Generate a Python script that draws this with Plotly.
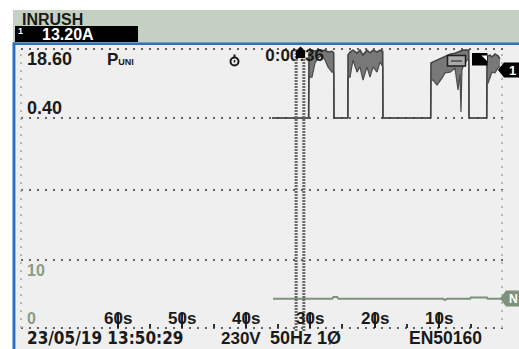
import plotly.graph_objects as go

# ---------------- data ----------------
# time axis: seconds before the end of the recording
tick_vals = [60, 50, 40, 30, 20, 10]
tick_text = ["60s", "50s", "40s", "30s", "20s", "10s"]
minor_vals = [55, 45, 35, 25, 15, 5]

# inrush current trace, min/max envelope (A, upper scale 0.40 .. 18.60)
time_s = [35.95, 30.25, 30.2, 29.73, 29.26, 28.79, 28.17, 27.70, 27.24, 26.61, 26.35, 26.30,
          24.15, 24.12, 23.81, 23.35, 22.72, 22.26, 21.79, 21.17, 20.70, 20.23, 19.61, 19.14,
          18.72, 18.68, 11.25, 11.21, 10.89, 10.27, 9.49, 9.03, 8.25, 7.47, 7.00, 6.70, 6.54,
          6.40, 6.23, 5.60, 5.33, 5.29, 2.53, 2.49, 2.33, 2.02, 1.71, 1.25, 0.78, 0.47]
inrush_max = [0.4, 0.4, 17.5, 18.3, 18.0, 18.3, 18.1, 18.3, 17.8, 18.0, 17.6, 0.4,
              0.4, 17.0, 17.8, 18.3, 17.5, 18.3, 17.0, 18.3, 17.6, 18.3, 17.8, 18.3,
              18.0, 0.4, 0.4, 14.9, 15.2, 15.7, 16.2, 16.5, 17.2, 17.5, 17.8, 18.0, 18.3,
              18.3, 18.3, 18.3, 18.3, 0.4, 0.4, 16.5, 16.8, 17.0, 16.5, 17.3, 16.8, 16.0]
inrush_min = [0.4, 0.4, 11.2, 11.2, 14.9, 16.2, 17.0, 15.7, 13.9, 12.5, 12.5, 0.4,
              0.4, 11.2, 11.2, 15.7, 12.5, 13.9, 10.4, 13.9, 11.2, 13.9, 12.5, 15.2,
              14.0, 0.4, 0.4, 10.4, 10.4, 9.1, 10.9, 12.3, 12.5, 13.6, 7.8, 12.0, 2.0,
              13.0, 13.9, 15.7, 15.7, 0.4, 0.4, 9.6, 9.6, 11.2, 12.5, 12.3, 13.6, 14.0]

# neutral trace (lower scale 0 .. 10)
neutral_t = [35.8, 26.6, 26.4, 25.8, 25.6, 18.9, 18.7, 13.2, 11.2, 9.3, 9.1, 8.7, 5.1, 5.0,
             2.5, 2.4, -0.5]
neutral_v = [4.3, 4.3, 4.55, 4.55, 4.3, 4.3, 4.4, 4.4, 4.3, 4.3, 4.1, 4.3, 4.3, 4.5,
             4.5, 4.3, 4.3]

cursor_t = [32.2, 31.0]
upper_labels = ["18.60", "0.40"]
upper_vals = [18.60, 0.40]
lower_labels = ["10", "0"]
lower_vals = [10, 0]
elapsed_text = "0:00:36"
elapsed_pos = (37.0, 16.5)
header_title = "INRUSH"
header_value = "13.20A"
status_texts = ["23/05/19 13:50:29", "230V", "50Hz 1Ø", "EN50160"]

# ---------------- geometry / styles ----------------
W, H = 519, 349
FONT = "Liberation Sans"
FONT_C = "DejaVu Sans Condensed, Liberation Sans"
INK = "#1a1a1a"
GREEN = "#7d917b"
BLUE = "#2f6fbf"

X0_PX, PX_PER_S = 503.0, 6.425
x_range = [X0_PX / PX_PER_S, (X0_PX - W) / PX_PER_S]
k1 = (18.60 - 0.40) / (118 - 49)
y_range = [0.40 - (H - 118) * k1, 18.60 + 49 * k1]
k2 = 10.0 / (328 - 260)
y2_range = [0 - (H - 328) * k2, 10 + 260 * k2]


def px(x):
    return x / W


def py(y):
    return 1 - y / H


def path(points):
    return "M " + " L ".join(f"{px(a):.5f},{py(b):.5f}" for a, b in points) + " Z"


fig = go.Figure()

fig.add_trace(go.Scatter(x=time_s, y=inrush_min, mode="lines",
                         line=dict(color="#4a4a4a", width=1.2), hoverinfo="skip"))
fig.add_trace(go.Scatter(x=time_s, y=inrush_max, mode="lines", fill="tonexty",
                         fillcolor="#787878", line=dict(color="#444444", width=1.6),
                         hoverinfo="skip"))
fig.add_trace(go.Scatter(x=neutral_t, y=neutral_v, mode="lines", yaxis="y2",
                         line=dict(color=GREEN, width=2), hoverinfo="skip"))
fig.add_trace(go.Scatter(x=[elapsed_pos[0]], y=[elapsed_pos[1]], mode="text",
                         text=[f"<b>{elapsed_text}</b>"], textposition="middle right",
                         textfont=dict(family=FONT, size=17, color=INK), hoverinfo="skip"))

shapes = []
# backgrounds
shapes.append(dict(type="rect", xref="paper", yref="paper", x0=px(13), x1=1, y0=py(43), y1=py(10),
                   fillcolor="#c4d0c1", line_width=0, layer="below"))
shapes.append(dict(type="rect", xref="paper", yref="paper", x0=px(16), x1=1, y0=0, y1=py(45),
                   fillcolor="#efefef", line_width=0, layer="below"))
shapes.append(dict(type="rect", xref="paper", yref="paper", x0=px(13), x1=1, y0=py(45), y1=py(42.5),
                   fillcolor=BLUE, line_width=0, layer="below"))
shapes.append(dict(type="rect", xref="paper", yref="paper", x0=px(12.5), x1=px(15.5), y0=0, y1=py(42.5),
                   fillcolor=BLUE, line_width=0, layer="below"))
# header value box
shapes.append(dict(type="rect", xref="paper", yref="paper", x0=px(15), x1=px(138), y0=py(42), y1=py(26),
                   fillcolor="#000000", line_width=0, layer="above"))
# dotted grid
grid = dict(color="#626262", width=2, dash="2px,6px")
for v in upper_vals:
    shapes.append(dict(type="line", xref="paper", yref="y", x0=px(21), x1=px(503), y0=v, y1=v,
                       line=grid, layer="below"))
shapes.append(dict(type="line", xref="paper", yref="paper", x0=px(21), x1=px(503), y0=py(190), y1=py(190),
                   line=grid, layer="below"))
for v in lower_vals:
    shapes.append(dict(type="line", xref="paper", yref="y2", x0=px(21), x1=px(503), y0=v, y1=v,
                       line=grid, layer="below"))
faint = dict(color="#b8b8b8", width=2, dash="2px,6px")
for xx in (21, 502):
    shapes.append(dict(type="line", xref="paper", yref="paper", x0=px(xx), x1=px(xx), y0=py(328), y1=py(49),
                       line=faint, layer="below"))
# cursors
for c in cursor_t:
    shapes.append(dict(type="line", xref="x", yref="paper", x0=c, x1=c, y0=py(331), y1=py(50),
                       line=dict(color="#6a6a6a", width=3, dash="2px,1px"), layer="above"))
shapes.append(dict(type="path", xref="paper", yref="paper",
                   path=path([(296, 58), (296, 51), (300.5, 46.5), (305, 51), (305, 58)]),
                   fillcolor="#000000", line_width=0, layer="above"))
# channel markers
shapes.append(dict(type="path", xref="paper", yref="paper",
                   path=path([(498, 70), (504, 62.5), (519, 62.5), (519, 77.5), (504, 77.5)]),
                   fillcolor="#000000", line_width=0, layer="above"))
shapes.append(dict(type="path", xref="paper", yref="paper",
                   path=path([(500, 298.5), (506, 290.5), (519, 290.5), (519, 306.5), (506, 306.5)]),
                   fillcolor=GREEN, line_width=0, layer="above"))
# trigger icon and record box
shapes.append(dict(type="rect", xref="paper", yref="paper", x0=px(447.5), x1=px(465.5), y0=py(66), y1=py(55.5),
                   fillcolor="#a9a9a9", line=dict(color="#1e1e1e", width=1.5), layer="above"))
shapes.append(dict(type="line", xref="paper", yref="paper", x0=px(451), x1=px(462), y0=py(61), y1=py(61),
                   line=dict(color="#333", width=1.2), layer="above"))
shapes.append(dict(type="rect", xref="paper", yref="paper", x0=px(472), x1=px(487.5), y0=py(65.5), y1=py(53),
                   fillcolor="#000000", line_width=0, layer="above"))
shapes.append(dict(type="path", xref="paper", yref="paper",
                   path=path([(481.5, 55.5), (487, 55.5), (487, 61)]),
                   fillcolor="#ffffff", line_width=0, layer="above"))
# clock icon
shapes.append(dict(type="circle", xref="paper", yref="paper", x0=px(230.5), x1=px(238.5), y0=py(65.5), y1=py(57.5),
                   line=dict(color=INK, width=2), layer="above"))
shapes.append(dict(type="line", xref="paper", yref="paper", x0=px(234.5), x1=px(234.5), y0=py(57.5), y1=py(54.5),
                   line=dict(color=INK, width=2), layer="above"))
shapes.append(dict(type="line", xref="paper", yref="paper", x0=px(234.5), x1=px(234.5), y0=py(62.5), y1=py(60),
                   line=dict(color=INK, width=1.5), layer="above"))

ann = []


def txt(text, x, y, size, color=INK, xanchor="left", xref="paper", family=FONT):
    ann.append(dict(text=f"<b>{text}</b>", x=x if xref != "paper" else px(x),
                    y=py(y), xref=xref, yref="paper", xanchor=xanchor, yanchor="middle",
                    showarrow=False, font=dict(family=family, size=size, color=color),
                    borderpad=0))


txt(header_title, 21, 19.5, 16)
txt("1", 17, 31, 9, color="#ffffff")
txt(header_value, 41, 34.5, 16, color="#ffffff")
txt(upper_labels[0], 26, 58.5, 18)
txt("P<span style='font-size:9px'>UNI</span>", 106, 59.5, 17)
txt(upper_labels[1], 26, 108.5, 18)
txt(lower_labels[0], 26, 270, 16, color="#8a9b87")
txt(lower_labels[1], 26, 318.5, 16, color="#8a9b87")
for tv, tt in zip(tick_vals, tick_text):
    txt(tt, tv, 318.5, 17, xanchor="center", xref="x")
txt(status_texts[0], 26, 338, 17, family=FONT_C)
txt(status_texts[1], 220, 338, 17)
txt(status_texts[2], 269, 338, 18)
txt(status_texts[3], 408, 338, 17.5)
txt("1", 512, 70, 13, color="#ffffff", xanchor="center")
txt("N", 513, 298.5, 12, color="#ffffff", xanchor="center")

fig.update_layout(
    width=W, height=H, autosize=False,
    margin=dict(l=0, r=0, t=0, b=0, pad=0),
    paper_bgcolor="#ffffff", plot_bgcolor="#ffffff",
    showlegend=False,
    xaxis=dict(range=x_range, domain=[0, 1], anchor="free", position=py(328),
               showgrid=False, zeroline=False, showline=False,
               ticks="inside", ticklen=16, tickwidth=2, tickcolor="#222",
               tickvals=tick_vals, showticklabels=False,
               minor=dict(ticks="inside", ticklen=4, tickwidth=1.5, tickcolor="#333",
                          tickvals=minor_vals, showgrid=False),
               fixedrange=True),
    yaxis=dict(range=y_range, domain=[0, 1], visible=False, fixedrange=True),
    yaxis2=dict(range=y2_range, overlaying="y", visible=False, fixedrange=True),
    shapes=shapes,
    annotations=ann,
)

fig.write_html("out.html", config={"displayModeBar": False},
               post_script="document.body.style.margin='0';document.body.style.overflow='hidden';")
